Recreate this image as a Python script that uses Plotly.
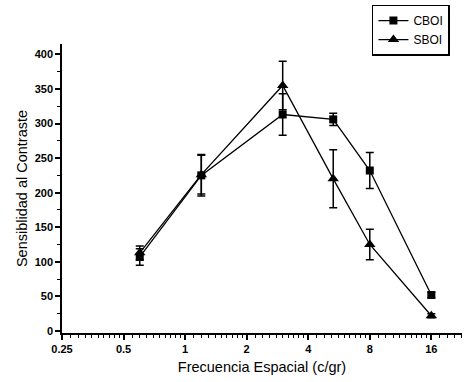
import plotly.graph_objects as go

freq = [0.6, 1.2, 3.0, 5.3, 8.0, 16.0]
cboi = [107, 225, 313, 306, 232, 52]
cboi_err = [12, 30, 30, 9, 26, 4]
sboi = [113, 226, 355, 220, 125, 22]
sboi_err = [10, 28, 35, 42, 22, 3]

xticks = [0.25, 0.5, 1, 2, 4, 8, 16]
xticklabels = ["0.25", "0.5", "1", "2", "4", "8", "16"]
yticks = [0, 50, 100, 150, 200, 250, 300, 350, 400]

minor_x = []
for base in [0.25, 0.5, 1, 2, 4, 8, 16]:
    for i in range(1, 10):
        v = base * (1 + i / 10)
        if v < 22.6:
            minor_x.append(v)

font = "Liberation Sans, Arial, sans-serif"

fig = go.Figure()
fig.add_trace(go.Scatter(
    x=freq, y=cboi, name="CBOI", mode="lines+markers",
    line=dict(color="black", width=1.3),
    marker=dict(symbol="square", size=8, color="black"),
    error_y=dict(type="data", array=cboi_err, visible=True,
                 color="black", thickness=1.5, width=4),
))
fig.add_trace(go.Scatter(
    x=freq, y=sboi, name="SBOI", mode="lines+markers",
    line=dict(color="black", width=1.3),
    marker=dict(symbol="triangle-up", size=10, color="black"),
    error_y=dict(type="data", array=sboi_err, visible=True,
                 color="black", thickness=1.5, width=4),
))

fig.update_layout(
    width=475, height=382,
    margin=dict(l=62, r=13, t=44, b=49, autoexpand=False),
    paper_bgcolor="white", plot_bgcolor="white",
    font=dict(family=font, color="black", size=11),
    showlegend=True,
    legend=dict(
        xref="container", yref="container",
        x=0.783, y=0.988, xanchor="left", yanchor="top",
        bordercolor="black", borderwidth=1.5, bgcolor="white",
        font=dict(size=12, family=font, color="black"),
        itemwidth=30, tracegroupgap=0,
    ),
    xaxis=dict(
        type="log", range=[-0.60206, 1.354],
        tickvals=xticks, ticktext=xticklabels,
        showline=True, linecolor="black", linewidth=1.5,
        ticks="outside", ticklen=5, tickwidth=1.5, tickcolor="black",
        showgrid=False, zeroline=False, automargin=False,
        minor=dict(tickvals=minor_x, ticks="outside", ticklen=3,
                   tickwidth=1, tickcolor="black", showgrid=False),
        tickfont=dict(size=11, family=font, weight="bold"),
        title=dict(text="Frecuencia Espacial (c/gr)", standoff=8,
                   font=dict(size=14.5, family=font, color="black")),
    ),
    yaxis=dict(
        range=[-3, 415],
        tickvals=yticks,
        showline=True, linecolor="black", linewidth=1.5,
        ticks="outside", ticklen=5, tickwidth=1.5, tickcolor="black",
        showgrid=False, zeroline=False, automargin=False,
        minor=dict(dtick=25, tick0=0, ticks="outside", ticklen=3,
                   tickwidth=1, tickcolor="black", showgrid=False),
        tickfont=dict(size=11, family=font, weight="bold"),
        title=dict(text="Sensiblidad al Contraste", standoff=4,
                   font=dict(size=14.5, family=font, color="black")),
    ),
)

fig.write_html("out.html")
